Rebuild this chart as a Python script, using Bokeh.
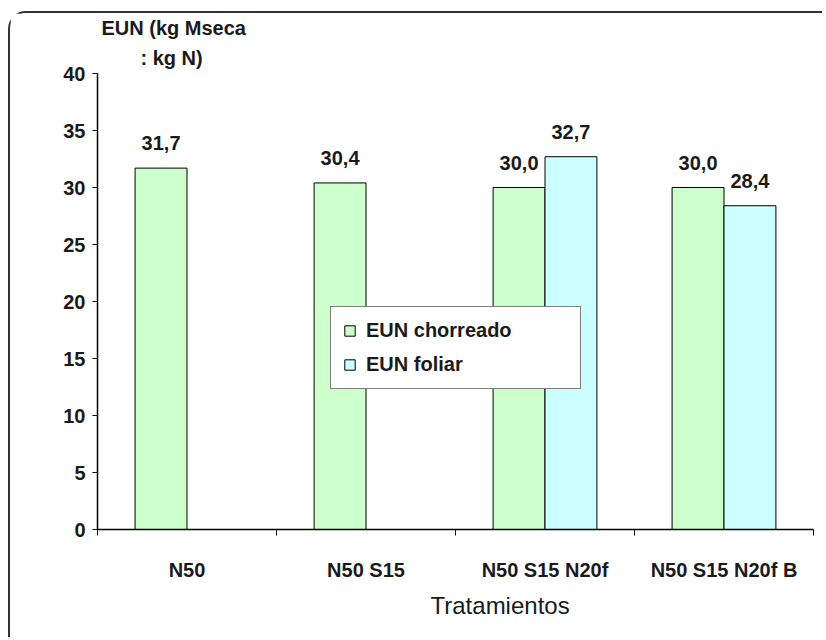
from bokeh.plotting import figure
from bokeh.models import (ColumnDataSource, FixedTicker, Legend,
                          LegendItem, Range1d, Title)
from bokeh.core.properties import value
from bokeh.embed import file_html
from bokeh.resources import INLINE

# ---- data ----
categories = ["N50", "N50 S15", "N50 S15 N20f", "N50 S15 N20f B"]
eun_chorreado = [31.7, 30.4, 30.0, 30.0]
eun_foliar = [None, None, 32.7, 28.4]
y_ticks = [0, 5, 10, 15, 20, 25, 30, 35, 40]
series_names = ["EUN chorreado", "EUN foliar"]
y_title_lines = ["EUN (kg Mseca", ": kg N)"]
x_title = "Tratamientos"

# ---- style ----
FONT = "Liberation Sans"
GREEN = "#CCFFCC"
CYAN = "#CCFFFF"
TXT = "#1a1a1a"
BAR_W = 0.29


def fmt(v):
    return f"{v:.1f}".replace(".", ",")


def series_source(vals, shift):
    xs, ys, labels = [], [], []
    for i, v in enumerate(vals):
        if v is None:
            continue
        xs.append(i + 0.5 + shift)
        ys.append(v)
        labels.append(fmt(v))
    return ColumnDataSource(dict(x=xs, top=ys, label=labels))


src_c = series_source(eun_chorreado, -BAR_W / 2)
src_f = series_source(eun_foliar, BAR_W / 2)

p = figure(width=814, height=626, title=None,
           x_range=Range1d(0, len(categories)),
           y_range=Range1d(y_ticks[0], y_ticks[-1]),
           output_backend="svg", toolbar_location=None,
           min_border_left=87, min_border_right=11,
           min_border_top=59, min_border_bottom=110)
p.styles = {"margin-left": "8px", "margin-top": "11px",
            "border-top": "2px solid #333", "border-left": "2px solid #333",
            "border-top-left-radius": "18px"}
p.xgrid.visible = False
p.ygrid.visible = False
p.outline_line_color = None
p.background_fill_color = "white"
p.border_fill_color = "white"

r1 = p.vbar(x="x", top="top", bottom=0, width=BAR_W, source=src_c,
            fill_color=GREEN, line_color="black", line_width=1)
r2 = p.vbar(x="x", top="top", bottom=0, width=BAR_W, source=src_f,
            fill_color=CYAN, line_color="black", line_width=1)

for src in (src_c, src_f):
    p.text(x="x", y="top", text="label", source=src, text_align="center",
           text_baseline="middle", y_offset=-25, text_font=value(FONT),
           text_font_style="bold", text_font_size="20px", text_color=TXT)

# x axis: labels at category centres, tick marks at boundaries
xa = p.xaxis[0]
centres = [i + 0.5 for i in range(len(categories))]
xa.ticker = FixedTicker(ticks=centres, minor_ticks=list(range(len(categories) + 1)))
xa.major_label_overrides = {c: lab for c, lab in zip(centres, categories)}
xa.major_tick_line_color = None
xa.major_tick_out = 0
xa.major_tick_in = 0
xa.minor_tick_line_color = "black"
xa.minor_tick_out = 6
xa.minor_tick_in = 0
xa.major_label_standoff = 23
xa.major_label_text_font = FONT
xa.major_label_text_font_style = "bold"
xa.major_label_text_font_size = "20px"
xa.major_label_text_color = TXT
xa.axis_line_color = "black"
xa.axis_line_width = 1.5

ya = p.yaxis[0]
ya.ticker = FixedTicker(ticks=y_ticks)
ya.major_tick_out = 5
ya.major_tick_in = 0
ya.minor_tick_line_color = None
ya.major_tick_line_color = "black"
ya.major_label_standoff = 7
ya.major_label_text_font = FONT
ya.major_label_text_font_style = "bold"
ya.major_label_text_font_size = "20px"
ya.major_label_text_color = TXT
ya.axis_line_color = "black"
ya.axis_line_width = 1.5

# x-axis title
p.add_layout(Title(text=x_title, align="left", offset=333, standoff=13,
                   text_font=FONT, text_font_style="normal",
                   text_font_size="24px", text_color=TXT), "below")

# y-axis title (two lines above the axis, nearest line first)
for txt, off, so in zip(reversed(y_title_lines), (43, 4), (10, 2)):
    p.add_layout(Title(text=txt, align="left", offset=off, standoff=so,
                       text_font=FONT, text_font_style="bold",
                       text_font_size="20px", text_color=TXT), "above")

legend = Legend(items=[LegendItem(label=series_names[0], renderers=[r1]),
                       LegendItem(label=series_names[1], renderers=[r2])],
                location=(233, 140), orientation="vertical",
                padding=12, spacing=11, margin=0,
                glyph_width=13, glyph_height=13, label_standoff=10,
                label_height=20, label_width=202,
                label_text_font=FONT, label_text_font_style="bold",
                label_text_font_size="20px", label_text_color=TXT,
                border_line_color="black", border_line_width=1.2,
                background_fill_color="white", background_fill_alpha=1)
p.add_layout(legend)

open("out.html", "w").write(file_html(p, INLINE))
